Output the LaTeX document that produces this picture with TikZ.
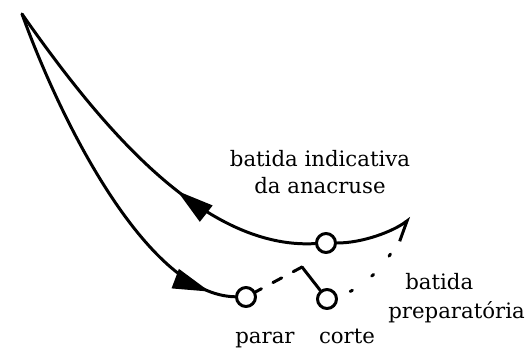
\documentclass[tikz,border=0pt]{standalone}
\usepackage{fontspec}
\setmainfont{DejaVu Serif}
\usetikzlibrary{arrows.meta,decorations.markings}

\begin{document}
\begin{tikzpicture}[x=0.02cm,y=-0.02cm,line cap=round,line join=round,
  every node/.style={inner sep=0pt},
  stroke/.style={line width=1.7pt},
  ring/.style={circle,draw,line width=1.7pt,fill=white,minimum size=0.38cm,inner sep=0pt},
  lbl/.style={font=\fontsize{12.1}{14.8}\selectfont}]
  \useasboundingbox (0,0) rectangle (531,352);
  % points of the gesture
  \coordinate (apex) at (22,14);
  \node[ring] (anac) at (326,243) {};
  \node[ring] (parar) at (246,297) {};
  \node[ring] (corte) at (327,299) {};
  \coordinate (peak) at (302,267);
  \coordinate (barb) at (411,218);
  \coordinate (dotend) at (393,250);
  % upper stroke
  \draw[stroke,postaction={decorate},
    decoration={markings,mark=at position 0.61 with {\arrowreversed{Triangle[length=0.74cm,width=0.4cm]}}}]
    (apex) .. controls (95,118) and (200,250) .. (anac);
  \draw[stroke,-{Straight Barb[harpoon,swap,length=0.36cm,width=0.48cm]}]
    (anac) .. controls (362,243) and (392,232) .. (barb);
  % lower stroke
  \draw[stroke,postaction={decorate},
    decoration={markings,mark=at position 0.93 with {\arrow{Triangle[length=0.74cm,width=0.4cm]}}}]
    (apex) .. controls (64,130) and (150,295) .. (parar);
  \draw[stroke,dash pattern=on 0.2cm off 0.26cm] (peak) -- (parar);
  \draw[stroke] (peak) -- (corte);
  \draw[stroke,dash pattern=on 0.05cm off 0.48cm,dash phase=0.26cm]
    (corte) .. controls (355,292) and (378,275) .. (dotend);
  % labels
  \node[lbl,align=center,anchor=base] (indic) at (320,193) {batida indicativa\\da anacruse};
  \node[lbl,align=left,anchor=base west,font=\fontsize{12.1}{16.4}\selectfont] (prep) at (388,318) {\hspace*{0.34cm}batida\\preparatória};
  \node[lbl,anchor=base] (lparar) at (265,343) {parar};
  \node[lbl,anchor=base] (lcorte) at (347,343) {corte};
\end{tikzpicture}
\end{document}
